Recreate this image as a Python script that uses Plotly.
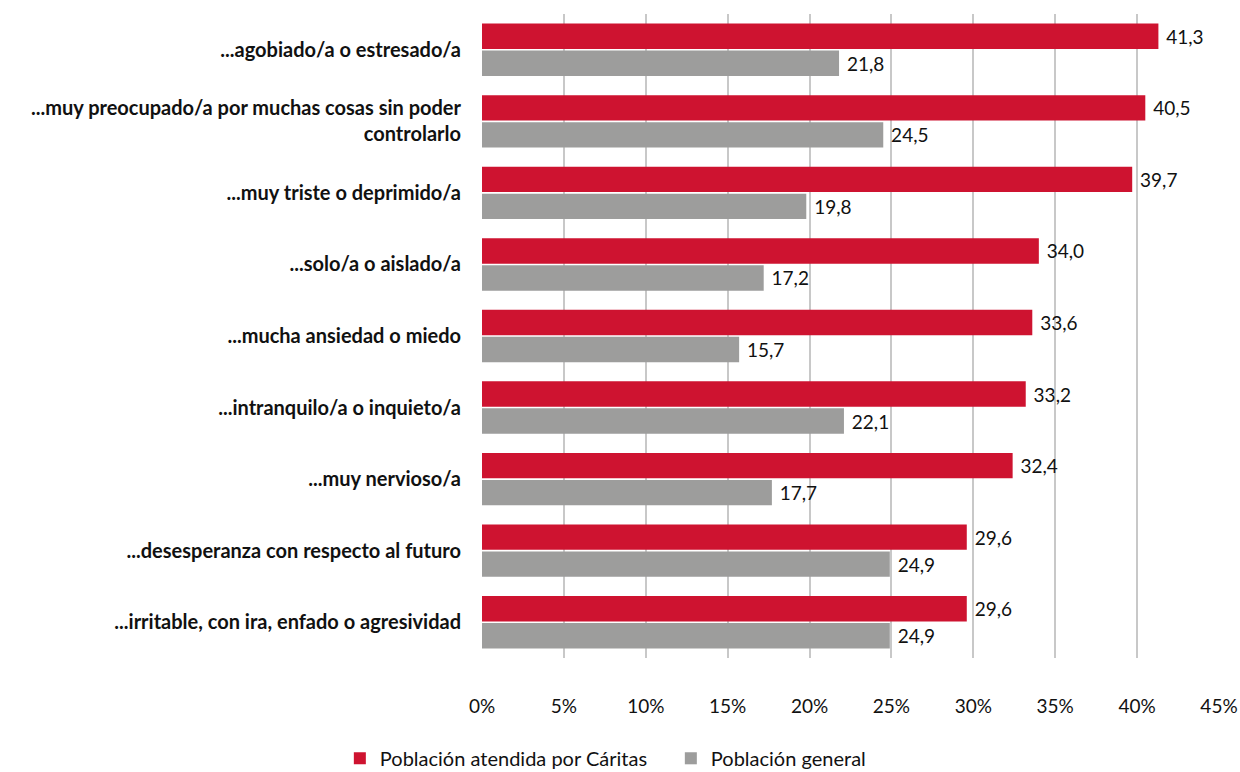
import plotly.graph_objects as go

categorias = [
    "...agobiado/a o estresado/a",
    "...muy preocupado/a por muchas cosas sin poder<br>controlarlo",
    "...muy triste o deprimido/a",
    "...solo/a o aislado/a",
    "...mucha ansiedad o miedo",
    "...intranquilo/a o inquieto/a",
    "...muy nervioso/a",
    "...desesperanza con respecto al futuro",
    "...irritable, con ira, enfado o agresividad",
]
caritas = [41.3, 40.5, 39.7, 34.0, 33.6, 33.2, 32.4, 29.6, 29.6]
general = [21.8, 24.5, 19.8, 17.2, 15.7, 22.1, 17.7, 24.9, 24.9]
ticks_x = [0, 5, 10, 15, 20, 25, 30, 35, 40, 45]
ticks_txt = [f"{t}%" for t in ticks_x]

FONT = "Lato, 'Open Sans', sans-serif"

fig = go.Figure()
fig.add_trace(go.Bar(
    y=categorias, x=caritas, orientation="h",
    name="Población atendida por Cáritas",
    marker=dict(color="#CE1330", line=dict(width=0)),
    texttemplate=" %{x:.1f}", textposition="outside",
    textfont=dict(size=19, color="#111111", family=FONT),
    cliponaxis=False,
))
fig.add_trace(go.Bar(
    y=categorias, x=general, orientation="h",
    name="Población general",
    marker=dict(color="#9D9D9C", line=dict(width=0)),
    texttemplate=" %{x:.1f}", textposition="outside",
    textfont=dict(size=19, color="#111111", family=FONT),
    cliponaxis=False,
))

fig.update_layout(
    width=1240, height=772,
    margin=dict(l=482, r=21, t=14, b=114, autoexpand=False),
    paper_bgcolor="white", plot_bgcolor="white",
    barmode="group", bargap=0.245, bargroupgap=0.06,
    separators=",.",
    font=dict(family=FONT, size=19, color="#111111"),
    showlegend=True,
    legend=dict(
        orientation="h", x=0.541, xanchor="center", xref="container",
        y=0.043, yanchor="top", yref="container",
        font=dict(size=20, color="#111111"),
        traceorder="normal",
        entrywidth=286, entrywidthmode="pixels",
    ),
    xaxis=dict(
        range=[0, 45], tickvals=ticks_x, ticktext=ticks_txt,
        showgrid=True, gridcolor="#C8C8C8", gridwidth=1.5,
        zeroline=False, showline=False,
        ticks="", ticklabelstandoff=35,
        tickfont=dict(size=19, color="#111111"),
        automargin=False, fixedrange=True,
    ),
    yaxis=dict(
        autorange="reversed",
        showgrid=False, showline=False, zeroline=False,
        ticks="", ticklabelstandoff=20,
        tickfont=dict(size=20, color="#111111", family=FONT, weight="bold"),
        automargin=False,
    ),
)

fig.write_html("out.html")
